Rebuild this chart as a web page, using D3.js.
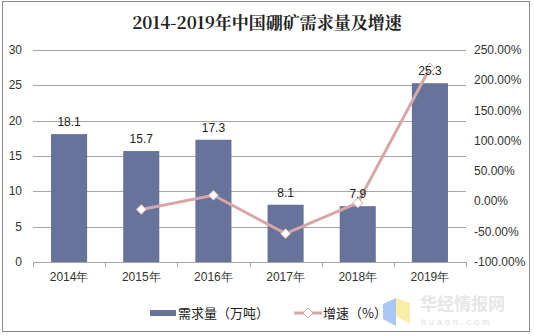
<!DOCTYPE html>
<html><head><meta charset="utf-8">
<script src="https://cdn.jsdelivr.net/npm/d3@7"></script>
<style>body{margin:0;background:#fff}svg{display:block}</style>
</head><body>
<script>
const years = ["2014年","2015年","2016年","2017年","2018年","2019年"];
const demand = [18.1,15.7,17.3,8.1,7.9,25.3];
const growth = [null,-13.26,10.19,-53.18,-2.47,220.25];
const leftTicks = [0,5,10,15,20,25,30];
const rightTicks = [-100,-50,0,50,100,150,200,250];

const W=534,H=336;
const svg=d3.select("body").append("svg").attr("width",W).attr("height",H);
svg.append("rect").attr("x",2.5).attr("y",1.5).attr("width",527).attr("height",330)
  .attr("fill","#fff").attr("stroke","#8c8c8c").attr("stroke-width",1);

svg.append("text").attr("x",267).attr("y",29).attr("text-anchor","middle")
  .attr("font-family","'Noto Serif CJK SC','Liberation Serif','Noto Sans CJK SC',serif")
  .attr("font-weight","bold").attr("font-size",17).attr("fill","#222")
  .text("2014-2019年中国硼矿需求量及增速");

const x0=33,x1=466,yTop=50,yBot=262;
const x=d3.scaleBand().domain(years).range([x0,x1]).paddingInner(0.5).paddingOuter(0.25);
const y=d3.scaleLinear().domain([0,30]).range([yBot,yTop]);
const y2=d3.scaleLinear().domain([-100,250]).range([yBot,yTop]);
const font="'Liberation Sans',Arial,sans-serif";

// gridlines
svg.append("g").selectAll("line").data(leftTicks.filter(d=>d>0)).join("line")
  .attr("x1",x0).attr("x2",x1).attr("y1",d=>Math.round(y(d))+0.5).attr("y2",d=>Math.round(y(d))+0.5)
  .attr("stroke","#a6a6a6").attr("stroke-width",1);

// left labels
svg.append("g").selectAll("text").data(leftTicks).join("text")
  .attr("x",22).attr("y",d=>y(d)+4).attr("text-anchor","end")
  .attr("font-family",font).attr("font-size",12).attr("fill","#333").text(d=>d);
// right labels
svg.append("g").selectAll("text").data(rightTicks).join("text")
  .attr("x",474).attr("y",d=>y2(d)+4).attr("text-anchor","start")
  .attr("font-family",font).attr("font-size",12).attr("fill","#333").text(d=>d.toFixed(2)+"%");

// bars
svg.append("g").selectAll("rect").data(demand).join("rect")
  .attr("x",(d,i)=>x(years[i])).attr("width",x.bandwidth())
  .attr("y",d=>y(d)).attr("height",d=>yBot-y(d)).attr("fill","#67739a");

// bottom axis
const step=x.step();
const bx=d3.scaleLinear().domain([0,6]).range([x0,x1]);
svg.append("line").attr("x1",x0).attr("x2",x1).attr("y1",yBot+0.5).attr("y2",yBot+0.5).attr("stroke","#a6a6a6");
svg.append("g").selectAll("line").data(d3.range(7)).join("line")
  .attr("x1",d=>Math.round(bx(d))+0.5).attr("x2",d=>Math.round(bx(d))+0.5)
  .attr("y1",yBot).attr("y2",yBot+5).attr("stroke","#a6a6a6");
svg.append("g").selectAll("text").data(years).join("text")
  .attr("x",d=>x(d)+x.bandwidth()/2).attr("y",281).attr("text-anchor","middle")
  .attr("font-family",font).attr("font-size",12).attr("fill","#333").text(d=>d);

// line
const pts=growth.map((g,i)=>({g,i})).filter(p=>p.g!==null);
const cx=i=>x(years[i])+x.bandwidth()/2;
svg.append("path").datum(pts)
  .attr("d",d3.line().x(p=>cx(p.i)).y(p=>y2(p.g)))
  .attr("fill","none").attr("stroke","#d6a7a6").attr("stroke-width",3);
svg.append("g").selectAll("path").data(pts).join("path")
  .attr("transform",p=>`translate(${cx(p.i)},${y2(p.g)})`)
  .attr("d","M0,-5L5,0L0,5L-5,0Z").attr("fill","#fff").attr("stroke","#d6a7a6").attr("stroke-width",1);

// data labels
svg.append("g").selectAll("text").data(demand).join("text")
  .attr("x",(d,i)=>cx(i)).attr("y",d=>y(d)-8).attr("text-anchor","middle")
  .attr("font-family",font).attr("font-size",12).attr("fill","#222").text(d=>d.toFixed(1));

// watermark
const wm=svg.append("g");
wm.append("path").attr("d","M383,304 L396,298 L396,326 L383,319Z").attr("fill","#a8c8f5");
wm.append("path").attr("d","M396,298 L410,303 L410,324 L396,316Z").attr("fill","#fbeda8");
wm.append("text").attr("x",420).attr("y",310).attr("font-family","'Noto Sans CJK SC',sans-serif")
  .attr("font-weight","bold").attr("font-size",17).attr("fill","#e6e6e6").text("华经情报网");
wm.append("text").attr("x",421).attr("y",325).attr("font-family",font)
  .attr("font-size",9).attr("letter-spacing",3).attr("fill","#e0e0e0").text("huaon.com");

// legend
const lg=svg.append("g");
lg.append("rect").attr("x",150).attr("y",310).attr("width",26).attr("height",6).attr("fill","#67739a");
lg.append("text").attr("x",178).attr("y",318).attr("font-family","'Noto Sans CJK SC',sans-serif")
  .attr("font-size",13).attr("fill","#222").text("需求量（万吨）");
lg.append("line").attr("x1",294).attr("x2",322).attr("y1",313).attr("y2",313).attr("stroke","#d6a7a6").attr("stroke-width",3);
lg.append("path").attr("transform","translate(308,313)").attr("d","M0,-5L5,0L0,5L-5,0Z")
  .attr("fill","#fff").attr("stroke","#d6a7a6");
lg.append("text").attr("x",323).attr("y",318).attr("font-family","'Noto Sans CJK SC',sans-serif")
  .attr("font-size",13).attr("fill","#222").text("增速（%）");
</script>
</body></html>
